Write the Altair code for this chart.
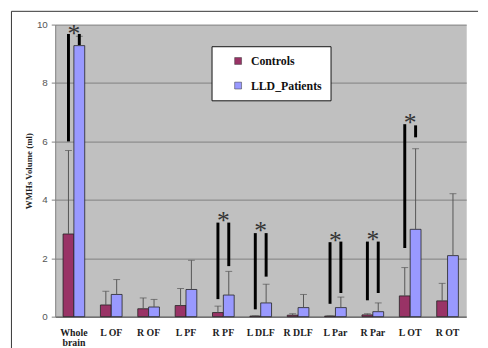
import altair as alt
import pandas as pd

categories = ["Whole brain", "L OF", "R OF", "L PF", "R PF", "L DLF",
              "R DLF", "L Par", "R Par", "L OT", "R OT"]
groups = ["Controls", "LLD_Patients"]
controls_mean = [2.83, 0.40, 0.27, 0.38, 0.14, 0.02, 0.05, 0.02, 0.06, 0.71, 0.54]
controls_upper = [5.69, 0.87, 0.64, 0.96, 0.36, 0.03, 0.10, 0.03, 0.10, 1.68, 1.14]
lld_mean = [9.28, 0.76, 0.33, 0.93, 0.74, 0.47, 0.31, 0.31, 0.17, 2.99, 2.09]
lld_upper = [9.60, 1.27, 0.59, 1.93, 1.55, 1.11, 0.76, 0.67, 0.47, 5.75, 4.21]

sig_categories = ["Whole brain", "R PF", "L DLF", "L Par", "R Par", "L OT"]
sig_controls_low = [6.00, 0.60, 0.25, 0.44, 0.56, 2.35]
sig_controls_high = [9.68, 3.22, 2.86, 2.55, 2.57, 6.59]
sig_lld_low = [9.30, 1.73, 1.37, 0.81, 0.81, 6.14]
sig_lld_high = [9.68, 3.22, 2.86, 2.57, 2.57, 6.55]
star_y = [9.86, 3.45, 3.11, 2.77, 2.79, 6.81]

rows = []
for i, c in enumerate(categories):
    rows.append({"category": c, "group": groups[0], "mean": controls_mean[i], "upper": controls_upper[i]})
    rows.append({"category": c, "group": groups[1], "mean": lld_mean[i], "upper": lld_upper[i]})
df = pd.DataFrame(rows)

sig_rows = []
for i, c in enumerate(sig_categories):
    sig_rows.append({"category": c, "group": groups[0], "low": sig_controls_low[i], "high": sig_controls_high[i]})
    sig_rows.append({"category": c, "group": groups[1], "low": sig_lld_low[i], "high": sig_lld_high[i]})
sig_df = pd.DataFrame(sig_rows)
star_df = pd.DataFrame({"category": sig_categories, "y": star_y})

x_enc = alt.X(
    "category:N",
    sort=categories,
    scale=alt.Scale(domain=categories, paddingInner=0.42, paddingOuter=0.21),
    axis=alt.Axis(
        title=None, labelAngle=0, ticks=False,
        labelFont="Liberation Serif", labelFontWeight="bold", labelFontSize=10,
        labelColor="#222222", labelPadding=11, labelLineHeight=10,
        domainColor="#555555",
        labelExpr="datum.label == 'Whole brain' ? ['Whole', 'brain'] : datum.label",
    ),
)
xo_enc = alt.XOffset("group:N", scale=alt.Scale(domain=groups, paddingInner=0, paddingOuter=0))
y_scale = alt.Scale(domain=[0, 10], nice=False)
y_axis = alt.Axis(
    values=[0, 2, 4, 6, 8, 10], title="WMHs Volume (ml)",
    titleFont="Liberation Serif", titleFontWeight="bold", titleFontSize=9,
    titleColor="#222222", titlePadding=3,
    labelFont="Liberation Sans", labelFontSize=10, labelColor="#555555",
    labelPadding=4, tickSize=4, tickColor="#808080", domainColor="#808080",
    gridColor="#808080",
)

bars = alt.Chart(df).mark_bar(stroke="#222222", strokeWidth=0.8).encode(
    x=x_enc,
    xOffset=xo_enc,
    y=alt.Y("mean:Q", scale=y_scale, axis=y_axis),
    color=alt.Color(
        "group:N",
        scale=alt.Scale(domain=groups, range=["#993366", "#9999FF"]),
        legend=alt.Legend(
            title=None, orient="none", legendX=159, legendY=22,
            fillColor="white", strokeColor="#111111", padding=9,
            symbolType="square", symbolSize=49, symbolStrokeColor="#333333",
            symbolStrokeWidth=0.5, symbolOffset=12, labelOffset=7,
            labelFont="Liberation Serif", labelFontWeight="bold",
            labelFontSize=12, labelColor="#111111", rowPadding=13,
            labelExpr="datum.label + '\u00a0\u00a0\u00a0\u00a0\u00a0\u00a0'",
        ),
    ),
)

err = alt.Chart(df).mark_rule(color="#555555", strokeWidth=1).encode(
    x=x_enc, xOffset=xo_enc, y=alt.Y("mean:Q", scale=y_scale), y2="upper:Q"
)
caps = alt.Chart(df).mark_tick(color="#555555", thickness=1, size=7, orient="horizontal").encode(
    x=x_enc, xOffset=xo_enc, y=alt.Y("upper:Q", scale=y_scale)
)
sig = alt.Chart(sig_df).mark_rule(color="#000000", strokeWidth=3).encode(
    x=x_enc, xOffset=xo_enc, y=alt.Y("low:Q", scale=y_scale), y2="high:Q"
)
stars = alt.Chart(star_df).mark_text(
    text="*", font="Liberation Serif", fontSize=26, color="#333333",
    baseline="alphabetic", dy=13.5
).encode(x=x_enc, y=alt.Y("y:Q", scale=y_scale))

frame_left = alt.Chart(alt.Data(values=[{"a": 1}])).mark_rule(color="#333333", strokeWidth=1).encode(
    x=alt.value(-44.5), y=alt.value(-13.5), y2=alt.value(345)
)
frame_top = alt.Chart(alt.Data(values=[{"a": 1}])).mark_rule(color="#333333", strokeWidth=1).encode(
    x=alt.value(-44.5), x2=alt.value(430), y=alt.value(-13.5)
)

chart = alt.layer(bars, err, caps, sig, stars, frame_left, frame_top).properties(
    width=418, height=297,
    autosize=alt.AutoSizeParams(type="none"),
    padding={"left": 48, "top": 14, "right": 14, "bottom": 29},
    background="white",
).configure_view(fill="#C0C0C0", stroke="transparent")

chart.save("out.html", embed_options={"renderer": "svg", "actions": False})
